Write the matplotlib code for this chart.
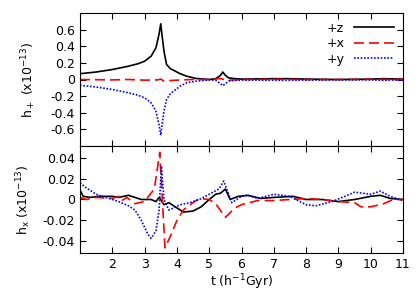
import numpy as np
import matplotlib
matplotlib.use('Agg')
import matplotlib.pyplot as plt

plt.rcParams.update({'font.size': 9, 'font.family': 'DejaVu Sans'})

# top panel: h_+
tz = [1.0, 1.5, 2.0, 2.5, 2.8, 3.0, 3.2, 3.35, 3.45, 3.5, 3.55, 3.6, 3.68, 3.8, 3.9, 4.1, 4.3, 4.6,
      5.0, 5.2, 5.35, 5.42, 5.5, 5.6, 5.8, 6.0, 7.0, 7.5, 8.0, 9.0, 10.0, 10.4, 11.0]
hpz = [0.07, 0.09, 0.12, 0.16, 0.19, 0.22, 0.28, 0.38, 0.55, 0.67, 0.5, 0.34, 0.18, 0.13, 0.11, 0.07, 0.04, 0.012,
       0.0, 0.01, 0.05, 0.09, 0.05, 0.02, 0.01, 0.005, 0.01, 0.01, 0.005, 0.0, 0.005, 0.01, 0.005]
hpy = [-0.07, -0.09, -0.12, -0.16, -0.19, -0.22, -0.28, -0.38, -0.55, -0.67, -0.52, -0.38, -0.24, -0.17, -0.14, -0.08, -0.04, -0.02,
       -0.005, -0.01, -0.05, -0.075, -0.05, -0.02, -0.01, -0.008, -0.01, -0.01, -0.008, -0.005, -0.005, -0.01, -0.005]
tx = [1.0, 2.0, 2.5, 3.0, 3.4, 3.5, 3.6, 3.7, 4.0, 4.5, 5.0, 5.35, 5.45, 5.55, 6.0, 7.0, 8.0, 9.0, 10.0, 11.0]
hpx = [0.0, -0.005, 0.0, -0.008, -0.005, 0.005, -0.02, -0.015, -0.008, 0.0, 0.0, 0.012, 0.0, -0.01, 0.0, 0.003, 0.0, 0.0, 0.002, 0.0]

# bottom panel: h_x
bz_t = [1.0, 1.1, 1.3, 1.6, 2.0, 2.2, 2.5, 2.7, 2.9, 3.2, 3.35, 3.45, 3.6, 3.75, 3.95, 4.2, 4.5, 4.75,
        5.0, 5.2, 5.35, 5.5, 5.65, 5.9, 6.2, 6.6, 7.0, 7.6, 8.0, 8.5, 9.0, 9.5, 10.0, 10.3, 10.6, 11.0]
bz = [0.009, 0.003, 0.002, 0.003, 0.003, 0.002, 0.004, 0.002, 0.0, 0.0, -0.002, 0.002, -0.005, -0.003, -0.007,
      -0.012, -0.011, -0.007, 0.0, 0.005, 0.006, 0.01, 0.0, 0.003, 0.004, 0.001, 0.002, 0.003, 0.0, 0.0,
      -0.002, 0.0, 0.003, 0.004, 0.001, 0.0]
bx_t = [1.0, 1.2, 1.5, 2.0, 2.2, 2.3, 2.45, 2.7, 3.0, 3.3, 3.47, 3.55, 3.63, 3.8, 4.0, 4.2, 4.5, 4.7,
        5.0, 5.2, 5.5, 5.8, 6.0, 6.5, 7.0, 7.5, 8.0, 8.5, 9.0, 9.5, 9.7, 10.0, 10.4, 10.7, 11.0]
bx = [0.002, 0.0, 0.002, 0.001, 0.003, -0.001, 0.002, -0.004, -0.002, 0.01, 0.045, 0.0, -0.046, -0.035, -0.02,
      -0.01, -0.003, 0.001, 0.0, -0.004, -0.017, -0.008, -0.005, -0.001, -0.001, 0.0, 0.001, 0.0,
      -0.002, -0.003, -0.007, -0.007, -0.004, 0.0, 0.0]
by_t = [1.0, 1.15, 1.5, 1.8, 2.2, 2.5, 2.7, 2.9, 3.1, 3.2, 3.35, 3.45, 3.52, 3.6, 3.75, 3.9, 4.1, 4.4, 4.7,
        5.0, 5.3, 5.45, 5.7, 6.0, 6.2, 6.5, 7.0, 7.5, 8.0, 8.3, 8.8, 9.2, 9.5, 10.0, 10.3, 10.6, 11.0]
by = [0.016, 0.012, 0.005, 0.002, -0.002, -0.006, -0.01, -0.02, -0.033, -0.037, -0.03, -0.01, 0.032, 0.0,
      -0.01, -0.008, -0.005, -0.003, 0.0, 0.005, 0.01, 0.0176, -0.003, 0.003, 0.004, 0.001, 0.005, 0.003,
      -0.005, -0.006, -0.002, 0.003, 0.007, 0.005, 0.008, 0.003, -0.001]

fig = plt.figure(figsize=(4.2, 2.94), dpi=100)
ax1 = fig.add_axes([80/420, 1-146/294, 323/420, 133/294])
ax2 = fig.add_axes([80/420, 1-253/294, 323/420, 107/294])

ax1.plot(tz, hpz, color='black', lw=1.2, label='+z')
ax1.plot(tx, hpx, color='red', lw=1.2, ls=(0, (6, 3)), label='+x')
ax1.plot(tz, hpy, color='blue', lw=1.2, ls=(0, (1, 1)), label='+y')
ax1.set_xlim(1, 11)
ax1.set_ylim(-0.8, 0.8)
ax1.set_yticks([-0.6, -0.4, -0.2, 0, 0.2, 0.4, 0.6])
ax1.set_yticklabels(['-0.6', '-0.4', '-0.2', '0', '0.2', '0.4', '0.6'])
ax1.set_xticks(range(2, 11))
ax1.set_xticklabels([])
ax1.set_ylabel('h$_+$ (x10$^{-13}$)', labelpad=9)
ax1.legend(loc='upper right', frameon=False, markerfirst=False, handlelength=3.2,
           labelspacing=0.2, borderaxespad=0.3, fontsize=9)

ax2.plot(bz_t, bz, color='black', lw=1.2)
ax2.plot(bx_t, bx, color='red', lw=1.2, ls=(0, (6, 3)))
ax2.plot(by_t, by, color='blue', lw=1.2, ls=(0, (1, 1)))
ax2.set_xlim(1, 11)
ax2.set_ylim(-0.051, 0.051)
ax2.set_yticks([-0.04, -0.02, 0, 0.02, 0.04])
ax2.set_yticklabels(['-0.04', '-0.02', '0', '0.02', '0.04'])
ax2.set_xticks(range(2, 12))
ax2.set_ylabel('h$_\\mathrm{x}$ (x10$^{-13}$)', labelpad=7)
ax2.set_xlabel('t (h$^{-1}$Gyr)', labelpad=1)

for ax in (ax1, ax2):
    ax.tick_params(direction='in', top=True, right=True, length=4, width=0.8)
    for s in ax.spines.values():
        s.set_linewidth(0.8)

fig.savefig('out.png', dpi=100)
